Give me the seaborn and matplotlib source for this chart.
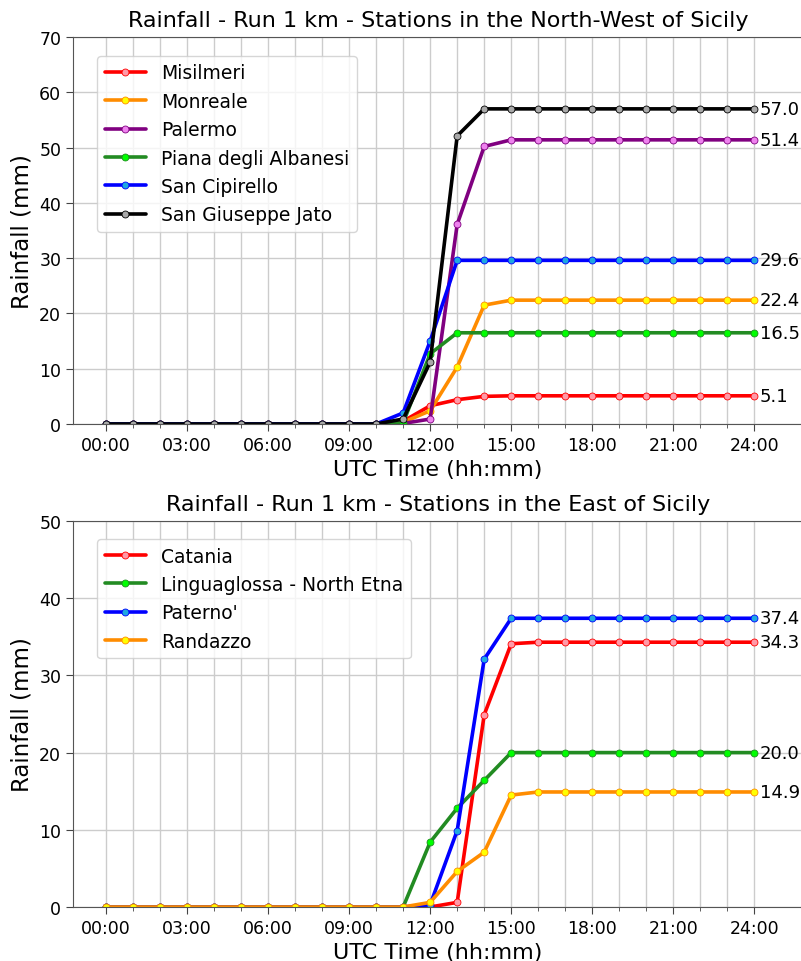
import matplotlib
matplotlib.use("Agg")
import matplotlib.pyplot as plt
import seaborn as sns
import pandas as pd
import numpy as np

hours = list(range(25))
tick_labels = ["00:00", "03:00", "06:00", "09:00", "12:00", "15:00", "18:00", "21:00", "24:00"]

# North-West stations (cumulative rainfall, mm)
misilmeri = [0]*11 + [0.5, 3.3, 4.4, 5.0] + [5.1]*10
monreale = [0]*11 + [0.3, 2.4, 10.3, 21.5] + [22.4]*10
palermo = [0]*11 + [0.1, 0.9, 36.1, 50.2] + [51.4]*10
piana = [0]*11 + [0.2, 12.7] + [16.5]*12
san_cipirello = [0]*11 + [2.0, 15.0] + [29.6]*12
san_giuseppe = [0]*11 + [0.9, 11.2, 52.1] + [57.0]*11

# East stations
catania = [0]*13 + [0.6, 24.9, 34.1] + [34.3]*9
linguaglossa = [0]*12 + [8.4, 12.8, 16.4] + [20.0]*10
paterno = [0]*12 + [0.3, 9.9, 32.1] + [37.4]*10
randazzo = [0]*12 + [0.6, 4.6, 7.1, 14.5] + [14.9]*9

nw_names = ["Misilmeri", "Monreale", "Palermo", "Piana degli Albanesi", "San Cipirello", "San Giuseppe Jato"]
nw_values = [misilmeri, monreale, palermo, piana, san_cipirello, san_giuseppe]
nw_colors = ["red", "darkorange", "purple", "forestgreen", "blue", "black"]
nw_faces = ["#ff9aa8", "yellow", "violet", "lime", "#1fa8e0", "darkgray"]

e_names = ["Catania", "Linguaglossa - North Etna", "Paterno'", "Randazzo"]
e_values = [catania, linguaglossa, paterno, randazzo]
e_colors = ["red", "forestgreen", "blue", "darkorange"]
e_faces = ["#ff9aa8", "lime", "#1fa8e0", "yellow"]

sns.set_style("ticks")
plt.rcParams["font.family"] = ["DejaVu Sans"]
plt.rcParams["text.color"] = "black"
plt.rcParams["axes.labelcolor"] = "black"
plt.rcParams["xtick.color"] = "#444444"
plt.rcParams["ytick.color"] = "#444444"
plt.rcParams["xtick.labelcolor"] = "black"
plt.rcParams["ytick.labelcolor"] = "black"

W, H = 801, 962
fig = plt.figure(figsize=(W/100, H/100), dpi=100)

def px_axes(left, top, bottom, right=W + 2):
    return fig.add_axes([left/W, 1 - bottom/H, (right - left)/W, (bottom - top)/H])

ax1 = px_axes(73, 38, 425)
ax2 = px_axes(73, 522, 908)

def draw(ax, names, values, colors, faces, ymax, title, anchor):
    for name, vals, c, fc in zip(names, values, colors, faces):
        df = pd.DataFrame({"hour": hours, "rain": vals})
        sns.lineplot(data=df, x="hour", y="rain", ax=ax, color=c, lw=2.6,
                     marker="o", markersize=5, markerfacecolor=fc,
                     markeredgecolor=c, markeredgewidth=0.6, label=name)
        ax.annotate(f"{vals[-1]:.1f}", xy=(hours[-1], vals[-1]), xytext=(4, 0),
                    textcoords="offset points", va="center", ha="left",
                    fontsize=13, color="black")
    ax.set_xlim(-1.22, 25.8)
    ax.set_ylim(0, ymax)
    ax.set_xticks(hours, minor=True)
    ax.set_xticks(list(range(0, 25, 3)))
    ax.set_xticklabels(tick_labels)
    ax.set_yticks(list(range(0, ymax + 1, 10)))
    ax.tick_params(axis="both", which="major", labelsize=12.5, length=5)
    ax.tick_params(axis="x", which="minor", length=3)
    ax.grid(True, which="both", color="#cccccc", lw=1)
    ax.set_axisbelow(True)
    ax.set_xlabel("UTC Time (hh:mm)", fontsize=16)
    ax.set_ylabel("Rainfall (mm)", fontsize=16.5)
    ax.set_title(title, fontsize=16, pad=8, color="black")
    for s in ax.spines.values():
        s.set_color("#555555")
    leg = ax.legend(loc="upper left", bbox_to_anchor=anchor, borderaxespad=0,
                    fontsize=13.5, handlelength=2.2, frameon=True)
    for t in leg.get_texts():
        t.set_color("black")

draw(ax1, nw_names, nw_values, nw_colors, nw_faces, 70,
     "Rainfall - Run 1 km - Stations in the North-West of Sicily", (0.033, 0.951))
draw(ax2, e_names, e_values, e_colors, e_faces, 50,
     "Rainfall - Run 1 km - Stations in the East of Sicily", (0.033, 0.953))

fig.savefig("out.png", dpi=100)
